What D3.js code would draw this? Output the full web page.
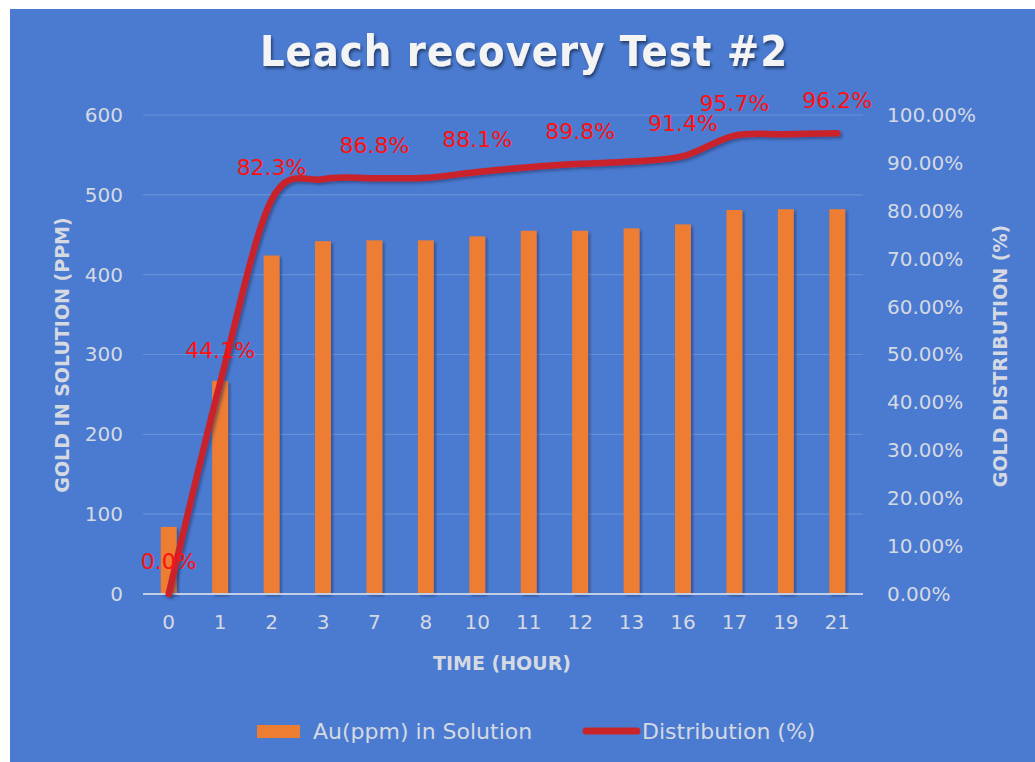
<!DOCTYPE html>
<html>
<head>
<meta charset="utf-8">
<script src="https://cdn.jsdelivr.net/npm/d3@7"></script>
<style>
  html, body { margin: 0; padding: 0; background: #ffffff; }
  svg { display: block; }
</style>
</head>
<body>
<div class="svgWrapper"></div>
<script>
// Data //
const hours = ["0", "1", "2", "3", "7", "8", "10", "11", "12", "13", "16", "17", "19", "21"];
const auPpm = [84, 267, 424, 442, 443, 443, 448, 455, 455, 458, 463, 481, 482, 482];
const distribution = [0.0, 44.1, 82.3, 86.6, 86.8, 86.9, 88.1, 89.1, 89.8, 90.3, 91.4, 95.7, 96.0, 96.2];
const labelledHours = ["0", "1", "2", "7", "10", "12", "16", "17", "21"];
const ppmTicks = [0, 100, 200, 300, 400, 500, 600];
const pctTicks = [0, 10, 20, 30, 40, 50, 60, 70, 80, 90, 100];

// Styles //
const svgStyles = { w: 1035, h: 762 };
const chartStyles = { left: 143, right: 863, top: 115, bottom: 594 };
const colors = {
  bg: "#4b7bd1",
  bar: "#ed7d31",
  line: "#c9242a",
  label: "#ff1010",
  text: "#d5d9e2",
  grid: "#6690d8",
  zero: "#c3cde3"
};
const font = "'DejaVu Sans', sans-serif";

let svg = d3
  .select(".svgWrapper")
  .append("svg")
  .attr("width", svgStyles.w)
  .attr("height", svgStyles.h);

// shadows
const defs = svg.append("defs");
defs
  .append("filter")
  .attr("id", "shadow")
  .attr("x", "-20%").attr("y", "-20%").attr("width", "140%").attr("height", "140%")
  .append("feDropShadow")
  .attr("dx", 2).attr("dy", 2).attr("stdDeviation", 1.6)
  .attr("flood-color", "#1f2f60").attr("flood-opacity", 0.55);
defs
  .append("filter")
  .attr("id", "titleShadow")
  .append("feDropShadow")
  .attr("dx", 1.5).attr("dy", 2.5).attr("stdDeviation", 1.5)
  .attr("flood-color", "#000").attr("flood-opacity", 0.5);

// background
svg
  .append("rect")
  .attr("x", 10)
  .attr("y", 9)
  .attr("width", svgStyles.w - 10)
  .attr("height", svgStyles.h - 9)
  .attr("fill", colors.bg);

// title
svg
  .append("text")
  .attr("x", 524)
  .attr("y", 66)
  .attr("text-anchor", "middle")
  .attr("font-family", "'DejaVu Sans Condensed', 'DejaVu Sans', sans-serif")
  .attr("font-weight", "bold")
  .attr("font-size", 43)
  .attr("letter-spacing", 1)
  .attr("fill", "#f4f4f4")
  .attr("filter", "url(#titleShadow)")
  .text("Leach recovery Test #2");

// Scales //
const xScale = d3
  .scaleBand()
  .domain(hours)
  .range([chartStyles.left, chartStyles.right])
  .paddingInner(0.69)
  .paddingOuter(0.345);

const yScale = d3
  .scaleLinear()
  .domain([0, 600])
  .range([chartStyles.bottom, chartStyles.top]);

const y2Scale = d3
  .scaleLinear()
  .domain([0, 100])
  .range([chartStyles.bottom, chartStyles.top]);

// gridlines
svg
  .append("g")
  .selectAll("line")
  .data(ppmTicks.slice(1))
  .enter()
  .append("line")
  .attr("x1", chartStyles.left)
  .attr("x2", chartStyles.right)
  .attr("y1", d => yScale(d))
  .attr("y2", d => yScale(d))
  .attr("stroke", colors.grid)
  .attr("stroke-width", 1.2);

// left axis
const yAxis = d3.axisLeft(yScale).tickValues(ppmTicks).tickSize(0).tickPadding(0);
svg
  .append("g")
  .attr("id", "y-axis")
  .attr("transform", `translate(${chartStyles.left - 20}, 0)`)
  .call(yAxis)
  .call(g => g.select(".domain").remove())
  .selectAll("text")
  .attr("font-family", font)
  .attr("font-size", 20)
  .attr("fill", colors.text);

// right axis
const y2Axis = d3
  .axisRight(y2Scale)
  .tickValues(pctTicks)
  .tickFormat(d => d3.format(".2f")(d) + "%")
  .tickSize(0)
  .tickPadding(0);
svg
  .append("g")
  .attr("id", "y2-axis")
  .attr("transform", `translate(${chartStyles.right + 24}, 0)`)
  .call(y2Axis)
  .call(g => g.select(".domain").remove())
  .selectAll("text")
  .attr("font-family", font)
  .attr("font-size", 20)
  .attr("fill", colors.text);

// x axis
const xAxis = d3.axisBottom(xScale).tickSize(0).tickPadding(0);
svg
  .append("g")
  .attr("id", "x-axis")
  .attr("transform", `translate(0, ${chartStyles.bottom + 20})`)
  .call(xAxis)
  .call(g => g.select(".domain").remove())
  .selectAll("text")
  .attr("dy", "0.75em")
  .attr("font-family", font)
  .attr("font-size", 20)
  .attr("fill", colors.text);

// bars
svg
  .append("g")
  .selectAll("rect")
  .data(auPpm)
  .enter()
  .append("rect")
  .attr("x", (d, i) => xScale(hours[i]))
  .attr("y", d => yScale(d))
  .attr("width", xScale.bandwidth())
  .attr("height", d => yScale(0) - yScale(d))
  .attr("fill", colors.bar)
  .attr("filter", "url(#shadow)");

// zero line
svg
  .append("line")
  .attr("x1", chartStyles.left)
  .attr("x2", chartStyles.right)
  .attr("y1", yScale(0))
  .attr("y2", yScale(0))
  .attr("stroke", colors.zero)
  .attr("stroke-width", 2);

// distribution line
const line = d3
  .line()
  .x((d, i) => xScale(hours[i]) + xScale.bandwidth() / 2)
  .y(d => y2Scale(d))
  .curve(d3.curveCardinal.tension(0));

svg
  .append("path")
  .datum(distribution)
  .attr("d", line)
  .attr("fill", "none")
  .attr("stroke", colors.line)
  .attr("stroke-width", 6.5)
  .attr("stroke-linecap", "round")
  .attr("stroke-linejoin", "round")
  .attr("filter", "url(#shadow)");

// data labels
svg
  .append("g")
  .selectAll("text")
  .data(distribution.map((d, i) => ({ hour: hours[i], value: d })).filter(d => labelledHours.includes(d.hour)))
  .enter()
  .append("text")
  .attr("x", d => xScale(d.hour) + xScale.bandwidth() / 2)
  .attr("y", d => y2Scale(d.value) - 25)
  .attr("text-anchor", "middle")
  .attr("font-family", font)
  .attr("font-size", 22)
  .attr("fill", colors.label)
  .text(d => d.value.toFixed(1) + "%");

// axis titles
svg
  .append("text")
  .attr("transform", "translate(69, 355) rotate(-90)")
  .attr("text-anchor", "middle")
  .attr("font-family", font)
  .attr("font-weight", "bold")
  .attr("font-size", 19)
  .attr("fill", colors.text)
  .text("GOLD IN SOLUTION (PPM)");

svg
  .append("text")
  .attr("transform", "translate(1007, 356) rotate(-90)")
  .attr("text-anchor", "middle")
  .attr("font-family", font)
  .attr("font-weight", "bold")
  .attr("font-size", 19)
  .attr("fill", colors.text)
  .text("GOLD DISTRIBUTION (%)");

svg
  .append("text")
  .attr("x", 502)
  .attr("y", 670)
  .attr("text-anchor", "middle")
  .attr("font-family", font)
  .attr("font-weight", "bold")
  .attr("font-size", 19)
  .attr("fill", colors.text)
  .text("TIME (HOUR)");

// legend
const legend = svg.append("g").attr("id", "legend");
legend
  .append("rect")
  .attr("x", 257)
  .attr("y", 725)
  .attr("width", 43)
  .attr("height", 13)
  .attr("fill", colors.bar);
legend
  .append("text")
  .attr("x", 313)
  .attr("y", 739)
  .attr("font-family", font)
  .attr("font-size", 22)
  .attr("fill", colors.text)
  .text("Au(ppm) in Solution");
legend
  .append("line")
  .attr("x1", 586)
  .attr("x2", 637)
  .attr("y1", 731)
  .attr("y2", 731)
  .attr("stroke", colors.line)
  .attr("stroke-width", 7)
  .attr("stroke-linecap", "round");
legend
  .append("text")
  .attr("x", 642)
  .attr("y", 739)
  .attr("font-family", font)
  .attr("font-size", 22)
  .attr("fill", colors.text)
  .text("Distribution (%)");
</script>
</body>
</html>
